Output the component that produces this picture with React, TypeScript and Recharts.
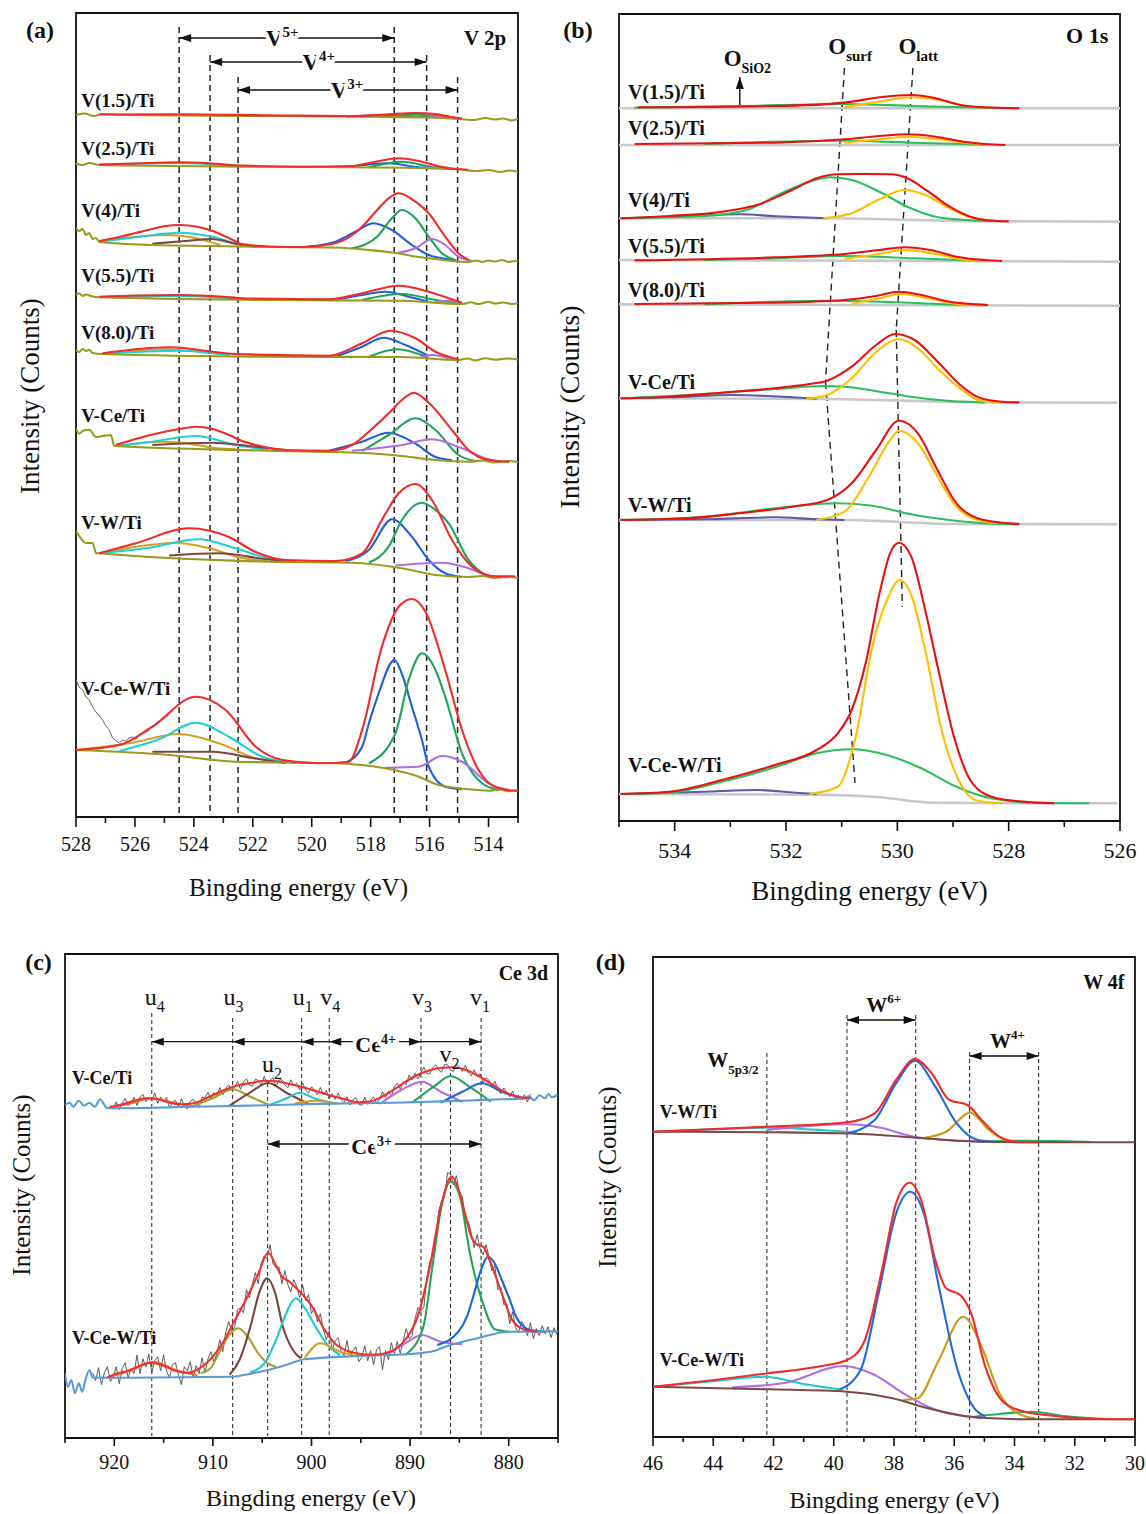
import React from 'react'
import { LineChart, Line, XAxis, YAxis, ReferenceLine, ReferenceArea, ReferenceDot } from 'recharts'

type Pt = [number, number]
type Curves = Record<string, Pt[]>

const SERIF = "'Liberation Serif', 'Times New Roman', Times, serif"

// ---------------- (a) V 2p ----------------
const aSamples = ['V(1.5)/Ti', 'V(2.5)/Ti', 'V(4)/Ti', 'V(5.5)/Ti', 'V(8.0)/Ti', 'V-Ce/Ti', 'V-W/Ti', 'V-Ce-W/Ti']
const aOffsets = [697, 645, 555, 513, 457, 355, 239, 26]
const aLabelY = [717, 669, 607, 542, 485, 402, 295, 129]
const aTicks = [528, 527, 526, 525, 524, 523, 522, 521, 520, 519, 518, 517, 516, 515, 514, 513]

const aV15: Curves = {
  bg: [[528.0, 5], [527.7, 6.5], [527.4, 4], [527.1, 6], [526.5, 5], [521, 4], [518, 3.3], [516, 2.5], [515, 1], [514.5, 0], [514.1, 2], [513.8, 0.5], [513.5, 1.5], [513.2, -0.5], [513.0, 1]],
  blue: [[518.8, 3.3], [517.6, 5], [516.6, 3.5], [516.0, 2.6]],
  green: [[517.5, 3], [516.5, 5.5], [515.6, 3.5], [515.0, 1.3]],
  purple: [[516.0, 2.8], [515.5, 4], [515.0, 1.2]],
  fit: [[527.2, 5.5], [524.5, 5.8], [521, 4.5], [518.6, 4], [517.5, 5.5], [516.5, 7], [515.8, 6], [515.3, 3], [514.9, 1.5]],
}
const aV25: Curves = {
  bg: [[528.0, 8.7], [527.78, 7], [527.55, 9], [527.21, 7], [521.45, 5.3], [516.94, 4.3], [515.0, 2.7], [514.4, 1], [514.0, 2], [513.6, 0], [513.3, 1.5], [513.0, 0.3]],
  cyan: [[527.21, 7.2], [524.5, 9], [522.4, 6]],
  blue: [[518.63, 5.3], [517.39, 8.7], [516.37, 4.7], [515.8, 3.5]],
  green: [[518.06, 4.7], [516.94, 10.3], [515.8, 4.3], [515.2, 2.8]],
  purple: [[516.37, 3.8], [515.69, 4.7], [515.02, 2.7]],
  fit: [[527.21, 7.5], [525.5, 9], [524.5, 9.7], [523.4, 8.5], [522.4, 6.5], [520.3, 5.3], [518.63, 6], [517.84, 10.3], [517.05, 13.7], [516.26, 10.3], [515.58, 5], [515.02, 2.7], [514.7, 2.3]],
}
const aV4: Curves = {
  bg: [[528.0, 34], [527.89, 31], [527.78, 33], [527.66, 27], [527.55, 29], [527.44, 23], [527.32, 24], [527.21, 20], [525.41, 17], [523.37, 16], [521.45, 15], [519.42, 14.5], [518.63, 13.5], [518.06, 12], [517.16, 9], [516.37, 5], [515.8, 3], [515.24, 1], [514.68, 0], [514.4, 1.5], [514.22, 0], [514.0, 1.5], [513.77, 0.5], [513.55, 2], [513.32, 0], [513.1, 1], [513.0, 0.5]],
  orange: [[527.21, 20.3], [525.97, 25.3], [524.95, 27], [523.93, 23.7], [523.1, 17]],
  cyan: [[527.21, 20.3], [525.97, 24.7], [524.5, 29.3], [523.37, 25.3], [522.36, 17], [521.7, 15.3]],
  brown: [[525.41, 18.3], [524.3, 21], [523.37, 23], [522.59, 18.3], [521.9, 15.3]],
  blue: [[520.32, 14.7], [519.2, 20.3], [518.52, 30.3], [517.9, 38.7], [517.28, 32], [516.6, 17], [516.03, 7], [515.58, 3.7], [515.1, 1.5]],
  green: [[518.63, 13.7], [517.78, 25.3], [517.28, 43.7], [516.94, 52], [516.48, 43.7], [516.03, 25.3], [515.58, 8.7], [515.13, 2]],
  purple: [[517.16, 8.7], [516.48, 13.7], [515.92, 23], [515.47, 17], [515.02, 5.3], [514.57, 1.3]],
  fit: [[527.21, 21], [526.53, 25], [525.97, 29], [525.41, 33], [524.95, 36], [524.5, 37], [523.93, 35.5], [523.37, 31], [522.81, 24], [522.36, 18], [521.45, 15.5], [520.32, 15], [519.2, 18.7], [518.29, 35.3], [517.78, 52], [517.39, 63.7], [517.05, 68.7], [516.48, 60.3], [516.03, 48.7], [515.47, 25.3], [515.02, 8.7], [514.68, 2]],
}
const aV55: Curves = {
  bg: [[528.0, 9], [527.89, 10.7], [527.78, 8], [527.66, 9.5], [527.44, 7.5], [527.21, 6.7], [521.45, 4], [516.94, 3.3], [514.9, 0], [514.6, 1.7], [514.34, 0], [514.0, 2.2], [513.77, 0.5], [513.5, 1.5], [513.2, 0], [513.0, 0.8]],
  cyan: [[527.21, 6.7], [524.5, 8], [522.36, 4.5]],
  blue: [[519.2, 4], [518.29, 9], [517.5, 12.3], [516.71, 7.3], [516.03, 2.3]],
  green: [[518.29, 4], [516.94, 10], [515.8, 4], [515.13, 1.3]],
  purple: [[515.8, 2.5], [515.4, 3.2], [514.9, 0.8]],
  fit: [[527.21, 7.3], [526, 8.5], [524.5, 9], [523, 7.3], [522.36, 5.7], [519.42, 4.7], [518.29, 10.7], [517.05, 18.3], [516.03, 12.3], [515.35, 5.7], [514.9, 1.3]],
}
const aV8: Curves = {
  bg: [[528.0, 10], [527.89, 8], [527.78, 11], [527.66, 9], [527.55, 10.3], [527.44, 7], [527.1, 6], [521.45, 3.3], [516.94, 3], [515.02, 0], [514.7, 1.5], [514.45, -0.5], [514.1, 1.8], [513.77, 0.3], [513.4, 1.5], [513.0, 0.5]],
  orange: [[527.1, 6], [525.07, 10.7], [523.15, 6]],
  cyan: [[527.1, 6], [524.5, 9.3], [522.81, 5]],
  blue: [[519.2, 3.3], [518.29, 13.3], [517.56, 22.3], [516.82, 15], [516.03, 4]],
  green: [[518.06, 3.3], [517.1, 10.7], [516.14, 3.5]],
  purple: [[516.37, 1.7], [515.92, 5], [515.24, 0.6]],
  fit: [[527.1, 6.7], [524.84, 12.7], [522.58, 6], [519.42, 4.3], [518.29, 16.7], [517.33, 29.3], [516.48, 21.7], [515.8, 8.3], [515.02, 0.6]],
}
const aVCe: Curves = {
  bg: [[528.0, 33.7], [527.89, 28.3], [527.78, 31], [527.55, 32.3], [527.32, 25], [527.1, 26], [526.82, 27], [526.7, 16], [521.45, 11.3], [518.06, 8.7], [516.94, 6], [515.8, 2], [514.68, 0.3], [514.2, 1.5], [513.8, -0.5], [513.4, 1], [513.0, 0]],
  orange: [[526.65, 16], [525.07, 20.3], [524.39, 19.3], [523.37, 14.3], [522.5, 12.5]],
  cyan: [[526.65, 16], [525.41, 20.3], [523.93, 26], [522.58, 17], [521.45, 12]],
  brown: [[525.41, 17], [523.37, 19.3], [521.9, 15.3], [520.9, 12]],
  blue: [[519.42, 11.3], [518.29, 20.3], [517.39, 29.3], [516.48, 18.3], [515.8, 5], [515.24, 2]],
  green: [[518.29, 11], [517.39, 27], [516.48, 43.7], [515.8, 32], [515.02, 7], [514.45, 1]],
  purple: [[518.63, 11.3], [516.94, 17], [515.92, 22.7], [514.9, 13.7], [514.0, 2.7], [513.55, 0.3]],
  fit: [[526.65, 17], [525.97, 23], [525.41, 27.5], [524.5, 33], [523.93, 35.3], [523.37, 33], [522.81, 27], [522.36, 21], [521.9, 17], [520.89, 12], [519.42, 11.3], [518.63, 17], [518.06, 30.3], [517.39, 48.7], [516.94, 62], [516.54, 69.3], [516.03, 59.3], [515.24, 32], [514.68, 12], [514.11, 2.7], [513.3, 0]],
}
const aVW: Curves = {
  bg: [[528.0, 47], [527.89, 42], [527.66, 35], [527.44, 35], [527.32, 25], [527.21, 24.7], [521.45, 16.3], [518.63, 15.3], [516.94, 9.7], [515.8, 3], [514.68, 1], [514.2, 2], [513.8, 0], [513.4, 1.5], [513.0, 0]],
  orange: [[527.21, 24.7], [525.97, 31.3], [524.61, 35.3], [523.48, 29.7], [522.36, 20], [521.5, 17]],
  cyan: [[527.21, 24.7], [525.63, 29.7], [523.82, 38.7], [522.58, 29.7], [521.23, 18], [520.5, 16.5]],
  brown: [[524.84, 22.5], [523.15, 24.7], [521.45, 18.5], [520.5, 16.5]],
  blue: [[518.86, 17], [518.06, 28], [517.28, 58.7], [516.6, 41.3], [516.03, 18], [515.47, 4.7], [514.9, 1]],
  green: [[518.06, 15.5], [517.39, 31.3], [516.94, 58], [516.26, 75.3], [515.8, 68], [515.35, 54.7], [514.68, 18], [514.0, 2.3], [513.55, 0.5]],
  purple: [[517.16, 12.5], [515.58, 15.3], [514.68, 9.7], [514.0, 2.3], [513.32, 0.5]],
  fit: [[527.21, 24.7], [525.97, 34.7], [524.16, 49.7], [522.81, 41], [521.9, 26], [520.89, 18], [519.2, 17], [518.29, 24.7], [517.62, 58], [517.05, 84.7], [516.48, 94], [515.92, 78], [515.24, 38], [514.56, 11.3], [513.77, 1.7], [513.1, 1.7]],
}
const aVCeW: Curves = {
  raw: [[528.0, 111], [527.9, 104], [527.77, 101], [527.66, 94], [527.55, 91], [527.44, 84], [527.32, 79], [527.2, 75], [527.1, 71], [526.98, 65], [526.87, 61], [526.76, 53], [526.64, 50], [526.53, 48], [526.42, 51], [526.31, 50], [526.2, 53], [526.08, 54], [525.97, 52], [525.86, 55], [525.75, 57], [525.63, 59], [525.5, 61]],
  bg: [[528.0, 41], [524.84, 36], [522.58, 29.3], [519.2, 27.7], [517.5, 22.7], [516.37, 14.3], [515.8, 7], [514.68, 1.7], [514.0, 0.3], [513.6, 1.5], [513.3, -0.3], [513.0, 1]],
  orange: [[528.0, 41], [526.2, 47.7], [524.5, 57], [523.15, 47.7], [521.9, 32.7], [520.89, 28]],
  cyan: [[526.53, 40], [525.18, 51.7], [523.93, 68.3], [522.81, 54.3], [521.68, 34.3], [520.55, 28]],
  brown: [[525.41, 39.3], [523.37, 39.3], [522.02, 33], [520.89, 28]],
  blue: [[518.86, 28], [518.29, 44.3], [518.06, 67.7], [517.73, 97.7], [517.19, 131], [516.94, 117], [516.6, 84.3], [516.26, 51], [516.03, 24.3], [515.47, 4.3], [514.9, 1.7]],
  green: [[518.06, 27.5], [517.16, 57.7], [516.71, 111], [516.26, 137.7], [515.8, 121], [515.47, 94.3], [514.9, 37.7], [514.22, 7.7], [513.66, 1]],
  purple: [[517.5, 23.3], [516.37, 24.3], [515.58, 35], [514.9, 29.3], [514.0, 7.7], [513.32, 1]],
  fit: [[528.0, 41], [526.53, 46], [525.41, 64.3], [523.93, 94.3], [522.92, 81], [521.9, 44.3], [520.99, 31], [519.76, 27.7], [518.74, 29.3], [518.29, 61], [517.62, 144.3], [517.05, 184.3], [516.6, 192], [516.14, 179.3], [515.47, 121], [514.9, 61], [514.34, 21], [513.66, 2.7], [513.0, 0]],
}
const aSets = [aV15, aV25, aV4, aV55, aV8, aVCe, aVW, aVCeW]
const aOrder = ['raw', 'orange', 'cyan', 'brown', 'blue', 'green', 'purple', 'bg', 'fit']
const aColors: Record<string, string> = { bg: '#9a9a1e', raw: '#555555', orange: '#d4a11e', cyan: '#1fcfd4', brown: '#7d4646', blue: '#1f5fd8', green: '#1fa25a', purple: '#b06ee0', fit: '#f22a2a' }

// ---------------- (b) O 1s ----------------
const bSamples = aSamples
const bOffsets = [712.7, 676, 599.3, 559.3, 515.3, 418.3, 296.7, 17.7]
const bLabelY = [729.3, 692.7, 621, 575, 531, 439.3, 316, 56]
const bTicks = [535, 534, 533, 532, 531, 530, 529, 528, 527, 526]

const bV15: Curves = {
  gray: [[535, 0], [526, 0]],
  green: [[534.72, 0.7], [532.83, 2.3], [530.95, 4.3], [529.69, 2.3], [528.43, 0.5], [527.81, 0]],
  orange: [[530.95, 1], [530.32, 6.7], [529.75, 11], [529.25, 8.3], [528.75, 2.3], [528.43, 0.5]],
  fit: [[534.66, 1], [532.2, 2.3], [530.95, 5.7], [530.32, 11], [529.75, 13.3], [529.31, 10], [528.87, 3.3], [528.43, 1], [527.81, 0]],
}
const bV25: Curves = {
  gray: [[535, 0], [526, 0]],
  green: [[533.46, 1], [530.95, 4.3], [529.69, 2.3], [528.43, 0.3]],
  orange: [[530.95, 2.3], [530.32, 5.7], [529.82, 8.3], [529.25, 5.7], [528.69, 1.7], [528.3, 0.5]],
  fit: [[534.72, 1], [532.2, 2.3], [530.95, 5.7], [530.32, 9], [529.82, 10.7], [529.31, 8.3], [528.81, 3.3], [528.43, 1], [528.06, 0]],
}
const bV4: Curves = {
  gray: [[535, 3.4], [531.26, 3.4], [529.69, 1.7], [528.43, 0.5], [526, 0]],
  navy: [[534.97, 3.4], [534.09, 5], [532.83, 7.4], [532.2, 5.5], [531.26, 3.4]],
  green: [[534.97, 3.4], [533.46, 5.7], [532.71, 11.7], [532.08, 28.4], [531.58, 40], [531.2, 44.4], [530.82, 41.7], [530.32, 30], [529.82, 15], [529.31, 5], [528.75, 1.7], [528.12, 0.5]],
  orange: [[531.33, 3.4], [530.82, 8.4], [530.32, 22.4], [529.88, 31.7], [529.5, 26.7], [529.06, 13.4], [528.69, 4.4], [528.25, 1]],
  fit: [[534.97, 3.4], [534.09, 5.7], [533.15, 10], [532.52, 16.7], [531.89, 31.7], [531.45, 43.4], [531.07, 47.4], [530.63, 47.7], [530.13, 47.4], [529.82, 43.4], [529.44, 30], [529.06, 15], [528.69, 5], [528.43, 1.7], [528.0, 0.3]],
}
const bV55: Curves = {
  gray: [[535, 1.7], [529.7, 0.8], [526, 0]],
  green: [[533.46, 1.7], [532.2, 3.4], [530.95, 5.7], [529.69, 3.4], [528.43, 0.7]],
  orange: [[530.95, 3], [530.32, 7.7], [529.88, 11.7], [529.31, 7.7], [528.75, 1.7], [528.4, 0.5]],
  fit: [[534.72, 1.3], [532.2, 4.4], [530.95, 7.7], [530.32, 11.7], [529.88, 14.4], [529.38, 11.4], [528.94, 5], [528.43, 1.7], [528.12, 0.7]],
}
const bV8: Curves = {
  gray: [[535, 1.3], [526, 0]],
  green: [[533.46, 1.3], [531.26, 5], [530.0, 3.4], [528.75, 0.5]],
  orange: [[530.82, 1.7], [530.32, 7.4], [529.94, 11.7], [529.44, 7.4], [528.87, 1.3], [528.5, 0.3]],
  fit: [[534.72, 1.7], [532.2, 3], [530.95, 5.7], [530.38, 9.7], [529.97, 14], [529.57, 10.7], [529.06, 4], [528.56, 1.3], [528.37, 0.7]],
}
const bVCe: Curves = {
  gray: [[535, 4.4], [531.26, 3.7], [529.69, 1.7], [528.43, 0.4], [526.05, 0]],
  navy: [[534.97, 4.4], [534.09, 5.4], [532.96, 7.7], [531.89, 5.4], [531.45, 4]],
  green: [[534.97, 4.4], [533.46, 8.7], [532.2, 13.7], [531.33, 16.7], [530.95, 16], [530.32, 11], [529.69, 5.4], [529.06, 1.7], [528.43, 0.3]],
  orange: [[531.64, 4], [531.26, 7.7], [530.82, 24.4], [530.38, 51], [529.97, 63.4], [529.63, 54.4], [529.25, 32.7], [528.87, 14.4], [528.5, 2], [528.12, 0.3]],
  fit: [[534.97, 4.4], [534.09, 6], [533.15, 10], [532.2, 14.4], [531.58, 18.7], [531.26, 22], [530.82, 36], [530.38, 57.7], [530.04, 68.7], [529.69, 62.7], [529.25, 39.4], [528.87, 17.7], [528.5, 4.4], [528.12, 1], [527.81, 0.3]],
}
const bVW: Curves = {
  gray: [[535, 4.3], [530.95, 4.3], [530.0, 2.6], [529.06, 0.3], [526.05, 0]],
  navy: [[534.97, 4.3], [533.46, 5], [532.2, 7], [531.45, 5], [530.95, 4.3]],
  green: [[534.97, 4.3], [533.46, 7.6], [532.2, 16], [531.07, 21], [530.45, 18.5], [529.69, 9.3], [529.06, 4.3], [528.43, 1], [527.81, 0]],
  orange: [[531.45, 4.3], [530.95, 12.6], [530.51, 47.6], [530.13, 84.3], [529.97, 93.6], [529.63, 81], [529.31, 51], [528.94, 17.6], [528.56, 4.3], [528.18, 1]],
  fit: [[534.97, 4.3], [533.78, 6], [532.83, 11], [531.89, 17.6], [531.26, 24.3], [530.82, 41], [530.38, 74.3], [529.97, 103.6], [529.63, 91], [529.31, 57.6], [528.94, 21], [528.56, 6], [528.12, 1.5], [527.81, 0.3]],
}
const bVCeW: Curves = {
  gray: [[535, 9.3], [531.58, 8.7], [530.32, 6], [529.38, 0.6], [527.81, 0], [526.05, 0]],
  navy: [[534.97, 9.3], [533.46, 11.6], [532.52, 13.3], [531.83, 10.6], [531.45, 9.3]],
  green: [[534.97, 9.3], [534.09, 10.6], [533.15, 21.6], [532.2, 36], [531.45, 50], [530.82, 54], [530.19, 48.3], [529.57, 35], [528.94, 16.6], [528.31, 5], [527.49, 0.5], [526.55, 0]],
  orange: [[531.58, 9.3], [531.07, 16.6], [530.76, 63.3], [530.45, 156.6], [530.16, 206.6], [529.96, 223.3], [529.75, 208.3], [529.5, 153.3], [529.19, 70], [528.87, 20], [528.56, 2.5], [528.12, 0]],
  fit: [[534.97, 9.3], [534.09, 11.6], [533.15, 23.3], [532.2, 38.3], [531.45, 53.3], [531.07, 70], [530.82, 93.3], [530.57, 140], [530.32, 210], [530.13, 250], [529.97, 260.6], [529.75, 246.6], [529.5, 193.3], [529.25, 130], [529.0, 70], [528.69, 23.3], [528.31, 6.6], [527.81, 2], [527.18, 0]],
}
const bSets = [bV15, bV25, bV4, bV55, bV8, bVCe, bVW, bVCeW]
const bOrder = ['gray', 'navy', 'green', 'orange', 'fit']
const bColors: Record<string, string> = { gray: '#c8c8c8', navy: '#5b5ba6', green: '#2bbf5a', orange: '#ffbf00', fit: '#e81010' }

// ---------------- (c) Ce 3d ----------------
const cSamples = ['V-Ce/Ti', 'V-Ce-W/Ti']
const cOffsets = [329.7, 60.3]
const cLabelY = [360, 100]
const cTicks = [925, 920, 915, 910, 905, 900, 895, 890, 885, 880, 875]

const cVCe: Curves = {
  raw: [[920.4, 3.5], [920.1, -0.3], [919.8, 6.5], [919.5, -1.3], [919.2, 5.5], [918.9, 9.8], [918.6, 2.5], [918.3, 5.5], [918.0, 11], [917.7, 2.8], [917.4, 11], [917.1, 14], [916.8, 6.5], [916.5, 10.5], [916.2, 7.5], [915.9, 15.5], [915.6, 5], [915.3, 11.3], [915.0, 6], [914.7, 11], [914.4, 0.5], [914.1, 6], [913.8, 8], [913.5, 1.3], [913.2, 9.5], [912.9, 2], [912.6, -0.5], [912.3, 7], [912.0, 9], [911.7, 4.5], [911.4, 1], [911.1, 11.3], [910.8, 10.5], [910.5, 16], [910.2, 9], [909.9, 15.8], [909.6, 12.5], [909.3, 20.8], [909.0, 13.5], [908.7, 20.3], [908.4, 23.5], [908.1, 18], [907.8, 21], [907.5, 26.8], [907.2, 19], [906.9, 26.5], [906.6, 29.5], [906.3, 23], [906.0, 22], [905.7, 29], [905.4, 28], [905.1, 23], [904.8, 32], [904.5, 25], [904.2, 28], [903.9, 30.8], [903.6, 22], [903.3, 28.3], [903.0, 28.5], [902.7, 23.5], [902.4, 20.5], [902.1, 28.5], [901.8, 22.5], [901.5, 25.3], [901.2, 18.5], [900.9, 25.3], [900.6, 18.5], [900.3, 15], [900.0, 21.5], [899.7, 18.5], [899.4, 13.5], [899.1, 20.8], [898.8, 13.5], [898.5, 17.8], [898.2, 9.5], [897.9, 14.5], [897.6, 9], [897.3, 15.3], [897.0, 9], [896.7, 5.8], [896.4, 11.5], [896.1, 3.3], [895.8, 8.5], [895.5, 10.5], [895.2, 4], [894.9, 3], [894.6, 11], [894.3, 4], [894.0, 8], [893.7, 11.5], [893.4, 5], [893.1, 9], [892.8, 16.5], [892.5, 10.5], [892.2, 17], [891.9, 12], [891.6, 21.5], [891.3, 25], [891.0, 19], [890.7, 26.5], [890.4, 23.5], [890.1, 33.3], [889.8, 28.5], [889.5, 35], [889.2, 29.5], [888.9, 35.8], [888.6, 41], [888.3, 34.5], [888.0, 34.5], [887.7, 40.8], [887.4, 43.5], [887.1, 38.5], [886.8, 36], [886.5, 43.8], [886.2, 43.5], [885.9, 38], [885.6, 37], [885.3, 44], [885.0, 41.5], [884.7, 36.8], [884.4, 43], [884.1, 35.3], [883.8, 32.5], [883.5, 38.5], [883.2, 32], [882.9, 34.5], [882.6, 25.5], [882.3, 30.5], [882.0, 28], [881.7, 21], [881.4, 27], [881.1, 18.8], [880.8, 14.5], [880.5, 20.3], [880.2, 16], [879.9, 11.5], [879.6, 17], [879.3, 8.8], [879.0, 13], [878.7, 9], [878.4, 13.5], [878.1, 6.3], [877.8, 14.5]],
  u4: [[920.7, 0.5], [918.5, 4.5], [916.2, 10], [913.8, 5], [912, 2.3]],
  u3: [[912, 2.6], [909.8, 11], [908, 19], [906.2, 11.6], [904.3, 3.3]],
  u2: [[908.3, 2.6], [906.2, 16], [904.4, 25.3], [902.5, 15.3], [900.3, 4.3]],
  u1: [[904.3, 3.3], [902.5, 10], [901.25, 15.6], [899.6, 9.6], [897.4, 4.6]],
  v4: [[901.8, 4.3], [899.6, 7.6], [897.4, 4.6]],
  v3: [[893.07, 4.3], [890.9, 18.3], [888.8, 26.6], [886.9, 16.6], [884.7, 6.6]],
  v2: [[889.8, 5.6], [887.6, 21.6], [885.9, 32.3], [884, 21.6], [881.8, 6.6]],
  v1: [[886.9, 5.6], [884.7, 16.6], [882.7, 25], [880.7, 16.6], [878.5, 9.3]],
  base: [[925, 3.3], [924.52, 5.6], [924.16, 1.6], [923.61, 7.6], [923.07, 2.6], [922.53, 5.6], [921.98, 1.6], [921.43, 9], [920.89, 1.6], [920.7, 0], [912, 1.5], [906.2, 2.7], [898.2, 4.7], [891.6, 5.5], [884.7, 7.6], [880.7, 9], [878.5, 9.5], [877.98, 12], [877.43, 8], [876.88, 13], [876.34, 10], [875.97, 14.3], [875.61, 11], [875.06, 13.3]],
  fit: [[920.4, 1], [919.2, 4], [918.0, 7.5], [916.8, 10], [915.6, 9], [914.4, 5.5], [913.2, 4], [912.0, 5], [910.8, 9.5], [909.6, 15], [908.4, 20], [907.2, 23.5], [906.0, 25.5], [904.8, 27.5], [903.6, 27], [902.4, 24.5], [901.2, 22], [900.0, 18.5], [898.8, 15], [897.6, 11.5], [896.4, 8.5], [895.2, 6], [894.0, 7], [892.8, 12], [891.6, 19], [890.4, 27], [889.2, 33.5], [888.0, 38], [886.8, 40.5], [885.6, 41], [884.4, 38.5], [883.2, 33], [882.0, 26], [880.8, 18.5], [879.6, 13], [878.4, 10.5], [877.8, 10]],
}
const cVCeW: Curves = {
  raw: [[922.2, 5], [921.9, -3], [921.6, 10], [921.3, -7], [921.0, 5], [920.7, 11], [920.4, -4], [920.1, 1], [919.8, 11], [919.5, -6], [919.2, 9], [918.9, 15], [918.6, 0], [918.3, 9], [918.0, 4], [917.7, 22.5], [917.4, 4], [917.1, 19], [916.8, 11], [916.5, 23.5], [916.2, 5], [915.9, 17], [915.6, 21], [915.3, 7], [915.0, 23], [914.7, 6.5], [914.4, 0], [914.1, 13], [913.8, 15], [913.5, 3], [913.2, -7], [912.9, 11], [912.6, 7], [912.3, 16], [912.0, 0], [911.7, 12], [911.4, 4], [911.1, 20], [910.8, 5], [910.5, 19], [910.2, 26], [909.9, 16], [909.6, 24], [909.3, 38], [909.0, 26], [908.7, 45], [908.4, 56], [908.1, 47], [907.8, 50], [907.5, 68], [907.2, 70], [906.9, 65], [906.6, 88], [906.3, 80], [906.0, 93], [905.7, 105], [905.4, 94], [905.1, 114], [904.8, 122], [904.5, 119], [904.2, 133], [903.9, 114], [903.6, 110], [903.3, 111], [903.0, 94], [902.7, 107], [902.4, 93], [902.1, 86], [901.8, 98], [901.5, 91], [901.2, 80], [900.9, 93], [900.6, 77], [900.3, 83], [900.0, 64], [899.7, 70], [899.4, 56], [899.1, 64], [898.8, 48], [898.5, 38], [898.2, 47], [897.9, 28], [897.6, 37], [897.3, 40], [897.0, 26], [896.7, 22], [896.4, 37], [896.1, 21], [895.8, 27], [895.5, 31], [895.2, 16], [894.9, 20], [894.6, 32], [894.3, 17], [894.0, 27], [893.7, 13], [893.4, 28], [893.1, 31], [892.8, 8], [892.5, 27], [892.2, 18], [891.9, 35], [891.6, 24], [891.3, 36], [891.0, 24], [890.7, 37], [890.4, 49], [890.1, 39], [889.8, 42], [889.5, 59], [889.2, 70], [888.9, 67], [888.6, 71], [888.3, 100], [888.0, 116], [887.7, 122], [887.4, 137], [887.1, 167], [886.8, 177], [886.5, 181], [886.2, 205], [885.9, 204], [885.6, 193], [885.3, 202], [885.0, 184], [884.7, 181], [884.4, 154], [884.1, 156], [883.8, 145], [883.5, 130], [883.2, 143], [882.9, 129], [882.6, 123], [882.3, 133], [882.0, 121], [881.7, 107], [881.4, 112], [881.1, 88], [880.8, 90], [880.5, 73], [880.2, 74], [879.9, 54], [879.6, 66], [879.3, 50], [879.0, 45], [878.7, 56], [878.4, 52], [878.1, 42], [877.8, 55], [877.5, 39], [877.2, 49], [876.9, 42], [876.6, 52], [876.3, 44], [876.0, 51], [875.7, 40], [875.4, 50], [875.1, 43]],
  u4: [[920.7, 0.3], [918.2, 7.7], [916, 16], [913.8, 7.7], [911.6, 2.7]],
  u3: [[911.25, 4.4], [910.2, 10], [909.4, 24.4], [908.4, 42], [907.4, 49.4], [906.4, 40], [905.4, 24.4], [904.4, 14], [903.6, 11]],
  u2: [[908.3, 3], [907.3, 18], [906.2, 51], [905.3, 85], [904.5, 99.4], [903.7, 85], [902.9, 51], [901.9, 28], [901.1, 19.4]],
  u1: [[906.2, 5.4], [904.8, 14], [903.6, 37.7], [902.5, 66], [901.6, 79.4], [900.7, 70], [899.6, 51], [898.3, 32], [897.1, 22.7]],
  v4: [[900.7, 19.4], [899.1, 34.4], [897.1, 26], [895.3, 21.7]],
  v3: [[892.35, 22.7], [890.5, 34.4], [888.8, 42.7], [886.9, 36], [884.7, 33.5]],
  v2: [[890.5, 22.7], [888.7, 49.4], [887.6, 121], [886.7, 177.7], [885.87, 196], [884.9, 179.4], [884, 127.7], [882.5, 71], [881.4, 48.4], [880, 46]],
  v1: [[887.25, 32.7], [885.1, 46], [884.2, 62], [883.6, 81], [882.8, 108], [882.1, 121], [881.4, 114], [880.7, 97.7], [879.9, 78], [879.25, 61], [878.5, 51], [877.8, 47.7], [876.3, 46]],
  base: [[925, 4.4], [924.7, -9], [924.35, -2.3], [924.0, -15.6], [923.6, -5.6], [923.25, -14], [922.9, -1], [922.5, 7.7], [922.2, 0.3], [920.7, 0], [908, 0.9], [906.2, 4], [904.45, 7.7], [902.5, 13], [900.7, 18.4], [895.3, 21.7], [889.9, 23.7], [887.5, 27], [886.2, 31.7], [883.25, 39.3], [880, 46], [875, 46.3]],
  fit: [[920.7, 0.3], [919.8, 4], [918.6, 7], [917.4, 12], [916.2, 15], [915.0, 12], [913.8, 7], [912.6, 5], [911.4, 9], [910.2, 19], [909.0, 35], [907.8, 57], [906.6, 79], [905.4, 104], [904.4, 125], [903.6, 112], [903.0, 101], [902.4, 97], [901.8, 92], [901.2, 86], [900.0, 72], [898.8, 50], [897.6, 34], [896.4, 27], [895.2, 24], [894.0, 23], [892.8, 24], [891.6, 28], [890.4, 39], [889.2, 62], [888.0, 111], [886.8, 174], [885.8, 201], [885.0, 186], [884.4, 163], [883.8, 141], [883.2, 133], [882.6, 131], [882.0, 119], [880.8, 87], [879.6, 57], [878.4, 48], [877.1, 46]],
}
const cSets = [cVCe, cVCeW]
const cOrder = ['raw', 'u4', 'u3', 'u2', 'u1', 'v4', 'v3', 'v2', 'v1', 'base', 'fit']
const cColors: Record<string, string> = { raw: '#4a4a4a', u4: '#f0701e', u3: '#a3a126', u2: '#7a4436', u1: '#1ec8cf', v4: '#d6a11a', v3: '#b36ee0', v2: '#24a456', v1: '#1c62d8', base: '#5b9bd5', fit: '#f03030' }

// ---------------- (d) W 4f ----------------
const dSamples = ['V-W/Ti', 'V-Ce-W/Ti']
const dOffsets = [294.7, 17.7]
const dLabelY = [325.3, 77]
const dTicks = [46, 45, 44, 43, 42, 41, 40, 39, 38, 37, 36, 35, 34, 33, 32, 31, 30]

const dVW: Curves = {
  cyan: [[46, 10.6], [43.96, 13], [42.22, 14.6], [40.42, 12.3], [39.23, 9.6]],
  purple: [[42.22, 12.3], [39.58, 18], [38.4, 14.3], [37.46, 6.3], [36.27, 2.3], [35.09, 0.6]],
  green: [[35.09, 0.6], [33.9, 1.5], [32.7, 1.2], [31.5, 0.3]],
  gold: [[36.98, 4.6], [36.27, 10.6], [35.47, 29.6], [34.85, 12.3], [34.14, 0.6], [33.67, 0]],
  blue: [[39.6, 8.5], [38.64, 22.3], [37.93, 59], [37.31, 81.6], [36.63, 55.6], [35.92, 19], [35.21, 2.3], [34.62, 0.5]],
  base: [[46, 10.6], [42, 10], [39.82, 9], [38.6, 7.5], [37.46, 5], [36.27, 2.3], [35.09, 0.6], [33, 0], [30, 0]],
  fit: [[46, 10.6], [42.2, 15.6], [39.56, 20], [38.64, 29], [37.93, 62.3], [37.31, 83.3], [36.75, 69], [36.16, 42.3], [35.56, 37.3], [35.09, 22.3], [34.5, 5.6], [33.9, 0.5], [33.2, 0]],
}
const dVCeW: Curves = {
  cyan: [[46, 32.6], [44.2, 37.6], [42.3, 42.6], [41.01, 35.3], [39.82, 30]],
  purple: [[43.37, 32], [41.6, 36.6], [39.69, 53.3], [38.64, 44.3], [37.69, 26], [36.75, 11], [35.68, 3.3], [35.09, 1]],
  green: [[35.33, 2.6], [34.5, 5.3], [33.43, 7.6], [32.36, 3.3], [30.95, 0.3]],
  gold: [[37.69, 19.3], [37.22, 21], [36.51, 59.3], [35.7, 102.6], [35.09, 72.6], [34.5, 26], [33.9, 6], [33.31, 1]],
  blue: [[39.82, 29.5], [39.11, 49.3], [38.51, 126], [37.93, 206], [37.46, 227.6], [36.98, 202.6], [36.51, 132.6], [35.92, 52.6], [35.33, 11], [34.97, 3]],
  base: [[46, 32.6], [42.18, 30], [39.56, 27.6], [38.05, 21], [36.87, 11], [35.68, 3.3], [33.9, 0], [30, 0]],
  fit: [[46, 32.6], [43.96, 39.3], [42.18, 46], [40.4, 53.3], [39.56, 59.3], [38.99, 77.6], [38.4, 149.3], [37.93, 216], [37.48, 236.6], [37.1, 219.3], [36.63, 159.3], [36.27, 131], [35.8, 124.3], [35.44, 106], [34.97, 52.6], [34.38, 17.6], [33.67, 7.6], [32.72, 3.6], [31.53, 0.6], [30, 0]],
}
const dSets = [dVW, dVCeW]
const dOrder = ['cyan', 'purple', 'green', 'gold', 'blue', 'base', 'fit']
const dColors: Record<string, string> = { base: '#7b4848', cyan: '#1ec8cf', purple: '#b06ee0', blue: '#1e6ae0', gold: '#c99a12', green: '#27b064', fit: '#f02a2a' }

// ---------------- helpers ----------------
type Seg = { a: Pt; b: Pt; dash?: string; w?: number; arrow?: 'start' | 'end' | 'both'; color?: string }
type Note = { x: number; y: number; text: React.ReactNode; size: number; bold?: boolean; anchor?: 'start' | 'middle' | 'end'; halo?: boolean; alpha?: boolean }

function build(sets: Curves[], offsets: number[], order: string[], colors: Record<string, string>) {
  const out: any[] = []
  sets.forEach((c, i) => {
    order.forEach((k) => {
      const pts = c[k]
      if (!pts) return
      out.push({
        id: `${i}-${k}`,
        color: colors[k],
        w: k === 'raw' ? 0.9 : k === 'gray' ? 2.6 : 2.1,
        linear: k === 'raw',
        data: pts.map(([x, y]) => ({ x, y: y + offsets[i] })),
      })
    })
  })
  return out
}

const sampleNotes = (names: string[], x: number, ys: number[], size: number): Note[] =>
  names.map((n, i) => ({ x, y: ys[i], text: n, size, bold: true }))

function arrowShape(heads: string, color: string, w: number) {
  return (p: any) => {
    const { x1, y1, x2, y2 } = p
    const dx = x2 - x1
    const dy = y2 - y1
    const len = Math.hypot(dx, dy) || 1
    const ux = dx / len
    const uy = dy / len
    const L = 12
    const W = 4
    const head = (tx: number, ty: number, dir: number) => {
      const bx = tx - dir * ux * L
      const by = ty - dir * uy * L
      return `${tx},${ty} ${bx - uy * W},${by + ux * W} ${bx + uy * W},${by - ux * W}`
    }
    return (
      <g>
        <line x1={x1} y1={y1} x2={x2} y2={y2} stroke={color} strokeWidth={w} />
        {(heads === 'start' || heads === 'both') && <polygon points={head(x1, y1, -1)} fill={color} />}
        {(heads === 'end' || heads === 'both') && <polygon points={head(x2, y2, 1)} fill={color} />}
      </g>
    )
  }
}

function Panel(props: any) {
  const { box, m, xh, domain, yMax, ticks, major, tickFont, tickOff, tickLen, series, segs, notes } = props
  const tick = (p: any) => {
    const v = p.payload.value
    const isMajor = Math.abs(v % major) < 1e-6
    return (
      <g>
        <line x1={p.x} x2={p.x} y1={p.y} y2={p.y + (isMajor ? tickLen[0] : tickLen[1])} stroke="#111" strokeWidth={1.6} />
        {isMajor && (
          <text x={p.x} y={p.y + tickOff + tickFont * 0.35} textAnchor="middle" fontSize={tickFont} fontFamily={SERIF} fill="#111">
            {v}
          </text>
        )}
      </g>
    )
  }
  return (
    <div style={{ position: 'absolute', left: box[0], top: box[1] }}>
      <LineChart width={box[2]} height={box[3]} margin={{ top: m[0], right: m[1], bottom: 0, left: m[2] }}>
        <XAxis
          type="number"
          dataKey="x"
          domain={domain}
          reversed
          allowDataOverflow
          ticks={ticks}
          interval={0}
          tickLine={false}
          axisLine={false}
          tickSize={0}
          tickMargin={0}
          height={xh}
          tick={tick}
        />
        <YAxis hide type="number" domain={[0, yMax]} allowDataOverflow />
        <ReferenceArea x1={domain[0]} x2={domain[1]} y1={0} y2={yMax} fill="none" stroke="#111" strokeWidth={1.8} ifOverflow="visible" />
        {segs.map((s: Seg, i: number) => (
          <ReferenceLine
            key={'s' + i}
            segment={[{ x: s.a[0], y: s.a[1] }, { x: s.b[0], y: s.b[1] }]}
            ifOverflow="visible"
            stroke={s.color || '#222'}
            strokeWidth={s.w || 1.4}
            strokeDasharray={s.dash}
            shape={s.arrow ? arrowShape(s.arrow, s.color || '#111', s.w || 1.3) : undefined}
          />
        ))}
        {series.map((s: any) => (
          <Line
            key={s.id}
            data={s.data}
            dataKey="y"
            type={s.linear ? 'linear' : 'monotone'}
            stroke={s.color}
            strokeWidth={s.w}
            dot={false}
            activeDot={false}
            isAnimationActive={false}
            legendType="none"
          />
        ))}
        {notes.map((n: Note, i: number) => (
          <ReferenceDot
            key={'n' + i}
            x={n.x}
            y={n.y}
            r={0}
            ifOverflow="visible"
            shape={(p: any) => (
              <text
                x={p.cx}
                y={p.cy + (n.alpha ? 0 : n.size * 0.35)}
                fontSize={n.size}
                fontWeight={n.bold ? 700 : 400}
                fontFamily={SERIF}
                textAnchor={n.anchor || 'start'}
                fill="#111"
                stroke={n.halo ? '#fff' : 'none'}
                strokeWidth={n.halo ? 8 : 0}
                strokeLinejoin="round"
                paintOrder="stroke"
              >
                {n.text}
              </text>
            )}
          />
        ))}
      </LineChart>
    </div>
  )
}

function Txt({ x, y, size, bold, rot, children }: any) {
  return (
    <div
      style={{
        position: 'absolute',
        left: x,
        top: y,
        transform: `translate(-50%, -50%)${rot ? ' rotate(-90deg)' : ''}`,
        fontSize: size,
        fontWeight: bold ? 700 : 400,
        fontFamily: SERIF,
        whiteSpace: 'nowrap',
        lineHeight: 1,
        color: '#111',
      }}
    >
      {children}
    </div>
  )
}

const sup = (t: string, fs = 15, dy = -9) => <tspan fontSize={fs} dy={dy}>{t}</tspan>
const sub = (t: string, fs = 15, dy = 7) => <tspan fontSize={fs} dy={dy}>{t}</tspan>

// ---------------- annotations ----------------
const DASH_A = '6 4'
const aSegs: Seg[] = [
  { a: [524.5, 790], b: [524.5, 4], dash: DASH_A, w: 1.5 },
  { a: [523.45, 762], b: [523.45, 4], dash: DASH_A, w: 1.5 },
  { a: [522.5, 740], b: [522.5, 4], dash: DASH_A, w: 1.5 },
  { a: [517.2, 790], b: [517.2, 4], dash: DASH_A, w: 1.5 },
  { a: [516.1, 762], b: [516.1, 4], dash: DASH_A, w: 1.5 },
  { a: [515.05, 740], b: [515.05, 4], dash: DASH_A, w: 1.5 },
  { a: [524.5, 779], b: [517.2, 779], arrow: 'both', w: 1.3 },
  { a: [523.45, 755], b: [516.1, 755], arrow: 'both', w: 1.3 },
  { a: [522.5, 727], b: [515.05, 727], arrow: 'both', w: 1.3 },
]
const aNotes: Note[] = [
  { x: 521.0, y: 779, text: <>V{sup('5+')}</>, size: 23, bold: true, anchor: 'middle', halo: true },
  { x: 519.76, y: 755, text: <>V{sup('4+')}</>, size: 23, bold: true, anchor: 'middle', halo: true },
  { x: 518.8, y: 727, text: <>V{sup('3+')}</>, size: 23, bold: true, anchor: 'middle', halo: true },
  { x: 513.4, y: 779, text: 'V 2p', size: 21, bold: true, anchor: 'end' },
  ...sampleNotes(aSamples, 527.82, aLabelY, 19),
]

const bSegs: Seg[] = [
  { a: [530.95, 753], b: [531.29, 439], dash: '7 5', w: 1.4 },
  { a: [531.29, 439], b: [530.76, 38], dash: '7 5', w: 1.4 },
  { a: [529.72, 753], b: [530.02, 491], dash: '7 5', w: 1.4 },
  { a: [530.02, 491], b: [529.91, 214], dash: '7 5', w: 1.4 },
  { a: [532.83, 714], b: [532.83, 744], arrow: 'end', w: 1.4 },
]
const bNotes: Note[] = [
  { x: 533.12, y: 763, text: <>O{sub('SiO2', 14, 7)}</>, size: 23, bold: true },
  { x: 531.24, y: 775, text: <>O{sub('surf', 15, 7)}</>, size: 23, bold: true },
  { x: 529.98, y: 775, text: <>O{sub('latt', 15, 7)}</>, size: 23, bold: true },
  { x: 526.21, y: 786, text: 'O 1s', size: 22, bold: true, anchor: 'end' },
  ...sampleNotes(bSamples, 534.84, bLabelY, 20),
]

const DASH_C = '4 3'
const cSegs: Seg[] = [
  { a: [916.2, 425], b: [916.2, 2], dash: DASH_C, w: 1.1, color: '#333' },
  { a: [908.0, 420], b: [908.0, 2], dash: DASH_C, w: 1.1, color: '#333' },
  { a: [904.45, 355], b: [904.45, 2], dash: DASH_C, w: 1.1, color: '#333' },
  { a: [901.0, 420], b: [901.0, 2], dash: DASH_C, w: 1.1, color: '#333' },
  { a: [898.2, 420], b: [898.2, 2], dash: DASH_C, w: 1.1, color: '#333' },
  { a: [888.9, 420], b: [888.9, 2], dash: DASH_C, w: 1.1, color: '#333' },
  { a: [885.9, 365], b: [885.9, 2], dash: DASH_C, w: 1.1, color: '#333' },
  { a: [882.8, 420], b: [882.8, 2], dash: DASH_C, w: 1.1, color: '#333' },
  { a: [916.2, 396.3], b: [908.0, 396.3], arrow: 'start', w: 1.3 },
  { a: [908.0, 396.3], b: [901.0, 396.3], arrow: 'start', w: 1.3 },
  { a: [901.0, 396.3], b: [898.2, 396.3], arrow: 'start', w: 1.3 },
  { a: [898.2, 396.3], b: [888.9, 396.3], arrow: 'both', w: 1.3 },
  { a: [888.9, 396.3], b: [882.8, 396.3], arrow: 'end', w: 1.3 },
  { a: [904.45, 294], b: [882.8, 294], arrow: 'both', w: 1.3 },
]
const uv = (t: string, s: string) => <>{t}{sub(s, 16, 7)}</>
const cNotes: Note[] = [
  { x: 915.9, y: 433, text: uv('u', '4'), size: 24, anchor: 'middle', alpha: true },
  { x: 907.9, y: 433, text: uv('u', '3'), size: 24, anchor: 'middle', alpha: true },
  { x: 900.9, y: 433, text: uv('u', '1'), size: 24, anchor: 'middle', alpha: true },
  { x: 898.1, y: 433, text: uv('v', '4'), size: 24, anchor: 'middle', alpha: true },
  { x: 888.8, y: 433, text: uv('v', '3'), size: 24, anchor: 'middle', alpha: true },
  { x: 882.9, y: 433, text: uv('v', '1'), size: 24, anchor: 'middle', alpha: true },
  { x: 904.0, y: 366.3, text: uv('u', '2'), size: 24, anchor: 'middle', alpha: true },
  { x: 886.0, y: 376.3, text: uv('v', '2'), size: 24, anchor: 'middle', alpha: true },
  { x: 893.5, y: 394, text: <>Ce{sup('4+', 14, -8)}</>, size: 22, bold: true, anchor: 'middle', halo: true },
  { x: 893.9, y: 292, text: <>Ce{sup('3+', 14, -8)}</>, size: 22, bold: true, anchor: 'middle', halo: true },
  { x: 876.0, y: 465, text: 'Ce 3d', size: 20, bold: true, anchor: 'end' },
  ...sampleNotes(cSamples, 924.3, cLabelY, 18),
]

const dSegs: Seg[] = [
  { a: [42.22, 384], b: [42.22, 1], dash: DASH_C, w: 1.1, color: '#333' },
  { a: [39.56, 422], b: [39.56, 1], dash: DASH_C, w: 1.1, color: '#333' },
  { a: [37.28, 422], b: [37.28, 1], dash: DASH_C, w: 1.1, color: '#333' },
  { a: [35.49, 385], b: [35.49, 1], dash: DASH_C, w: 1.1, color: '#333' },
  { a: [33.2, 385], b: [33.2, 1], dash: DASH_C, w: 1.1, color: '#333' },
  { a: [39.56, 417], b: [37.28, 417], arrow: 'both', w: 1.4 },
  { a: [35.49, 381], b: [33.2, 381], arrow: 'both', w: 1.4 },
]
const dNotes: Note[] = [
  { x: 38.34, y: 425.3, text: <>W{sup('6+', 13, -9)}</>, size: 21, bold: true, anchor: 'middle', alpha: true },
  { x: 34.23, y: 388.7, text: <>W{sup('4+', 13, -9)}</>, size: 21, bold: true, anchor: 'middle', alpha: true },
  { x: 44.2, y: 370.3, text: <>W{sub('5p3/2', 13, 7)}</>, size: 21, bold: true, alpha: true },
  { x: 30.35, y: 455, text: 'W 4f', size: 20, bold: true, anchor: 'end' },
  ...sampleNotes(dSamples, 45.78, dLabelY, 18),
]

const aSeries = build(aSets, aOffsets, aOrder, aColors)
const bSeries = build(bSets, bOffsets, bOrder, bColors)
const cSeries = build(cSets, cOffsets, cOrder, cColors)
const dSeries = build(dSets, dOffsets, dOrder, dColors)

export default function App() {
  return (
    <div style={{ position: 'absolute', left: 0, top: 0, width: 1146, height: 1514, background: '#fff', overflow: 'hidden' }}>
      <Panel box={[0, 0, 560, 900]} m={[13, 42, 76]} xh={83} domain={[513, 528]} yMax={804} ticks={aTicks} major={2}
        tickFont={20} tickOff={26.5} tickLen={[10, 6]} series={aSeries} segs={aSegs} notes={aNotes} />
      <Panel box={[560, 0, 586, 900]} m={[14, 26, 59]} xh={79} domain={[526, 535]} yMax={807} ticks={bTicks} major={2}
        tickFont={22} tickOff={29} tickLen={[10, 6]} series={bSeries} segs={bSegs} notes={bNotes} />
      <Panel box={[0, 920, 573, 594]} m={[34, 15, 65]} xh={76} domain={[875, 925]} yMax={484} ticks={cTicks} major={10}
        tickFont={20} tickOff={24} tickLen={[8, 5]} series={cSeries} segs={cSegs} notes={cNotes} />
      <Panel box={[573, 920, 573, 594]} m={[37, 11, 80]} xh={77} domain={[30, 46]} yMax={480} ticks={dTicks} major={2}
        tickFont={20} tickOff={26} tickLen={[9, 5]} series={dSeries} segs={dSegs} notes={dNotes} />

      <Txt x={40} y={30} size={24} bold>(a)</Txt>
      <Txt x={578} y={30} size={24} bold>(b)</Txt>
      <Txt x={38.5} y={962} size={24} bold>(c)</Txt>
      <Txt x={610.5} y={962} size={24} bold>(d)</Txt>

      <Txt x={298.5} y={887} size={25}>Bingding energy (eV)</Txt>
      <Txt x={869.5} y={891} size={27}>Bingding energy (eV)</Txt>
      <Txt x={311} y={1498} size={24}>Bingding energy (eV)</Txt>
      <Txt x={894.5} y={1500} size={24}>Bingding energy (eV)</Txt>

      <Txt x={30} y={396} size={27} rot>Intensity (Counts)</Txt>
      <Txt x={570} y={407} size={28} rot>Intensity (Counts)</Txt>
      <Txt x={21} y={1185} size={25} rot>Intensity (Counts)</Txt>
      <Txt x={607} y={1177} size={25} rot>Intensity (Counts)</Txt>
    </div>
  )
}
